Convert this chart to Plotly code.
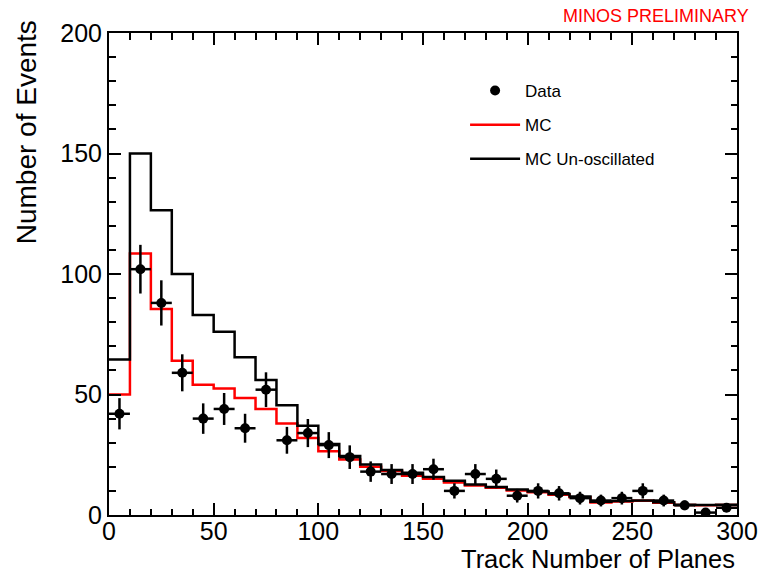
import numpy as np
import plotly.graph_objects as go

# ---- data ----
bin_edges = list(range(0, 301, 10))
bin_centers = [e + 5 for e in bin_edges[:-1]]

data_counts = [42, 102, 88, 59, 40, 44, 36, 52, 31, 34,
               29, 24, 18, 17, 17, 19, 10, 17, 15, 8,
               10, 9, 7, 6, 7, 10, 6, 4, 1, 3]

mc_counts = [50, 108.5, 85.5, 64, 54, 52.5, 48.5, 44, 38, 32,
             26.5, 23, 20, 18.3, 16.3, 15, 13.5, 12.2, 11.3, 10.2,
             9.4, 8.4, 7.4, 5.2, 5.6, 5.9, 5.1, 4.1, 4.0, 4.1]

mc_unosc_counts = [64.5, 150, 126.5, 100, 83, 76, 65.5, 56, 45.5, 37,
                   29.5, 24.5, 21, 18.7, 17.5, 15.8, 14.2, 12.7, 11.6, 10.6,
                   9.7, 8.7, 7.7, 5.5, 5.8, 6.0, 5.3, 4.3, 4.2, 4.3]

x_title = "Track Number of Planes"
y_title = "Number of Events"
label_text = "MINOS PRELIMINARY"

FONT = "Liberation Sans, Arial, Helvetica, sans-serif"

fig = go.Figure()

# MC (red step histogram)
fig.add_trace(go.Scatter(
    x=bin_edges, y=mc_counts + [mc_counts[-1]],
    mode="lines", line=dict(shape="hv", color="#ff0000", width=2.5),
    name="MC", legendgroup="b", legendrank=2,
))

# MC Un-oscillated (black step histogram)
fig.add_trace(go.Scatter(
    x=bin_edges, y=mc_unosc_counts + [mc_unosc_counts[-1]],
    mode="lines", line=dict(shape="hv", color="#000000", width=2.5),
    name="MC Un-oscillated", legendgroup="c", legendrank=3,
))

# Data points with errors
err_y = [float(np.sqrt(v)) for v in data_counts]
err_x = [5] * len(data_counts)
fig.add_trace(go.Scatter(
    x=bin_centers, y=data_counts, mode="markers",
    marker=dict(color="#000000", size=10),
    error_y=dict(type="data", array=err_y, color="#000000", thickness=2.5, width=0),
    error_x=dict(type="data", array=err_x, color="#000000", thickness=2.5, width=0),
    name="Data", legendgroup="a", legendrank=1,
))

axis_common = dict(
    showline=True, linecolor="#000000", linewidth=2, mirror="allticks",
    ticks="inside", ticklen=12, tickwidth=1.5, tickcolor="#000000",
    showgrid=False, zeroline=False, automargin=False,
    tickfont=dict(family=FONT, size=25, color="#000000"),
)

fig.update_xaxes(range=[0, 300], tick0=0, dtick=50, ticklabelstandoff=-7,
                 minor=dict(ticks="inside", ticklen=6.5, tickwidth=1.5,
                            tickcolor="#000000", dtick=10, showgrid=False),
                 **axis_common)
fig.update_yaxes(range=[0, 200], tick0=0, dtick=50,
                 minor=dict(ticks="inside", ticklen=6.5, tickwidth=1.5,
                            tickcolor="#000000", dtick=10, showgrid=False),
                 **axis_common)

fig.add_annotation(text=x_title, xref="paper", yref="paper",
                   x=1.0, y=-0.091, xanchor="right", yanchor="middle",
                   showarrow=False,
                   font=dict(family=FONT, size=25.5, color="#000000"))
fig.add_annotation(text=y_title, xref="paper", yref="paper",
                   x=-0.131, y=1.03, xanchor="center", yanchor="top",
                   textangle=-90, showarrow=False,
                   font=dict(family=FONT, size=28, color="#000000"))
fig.add_annotation(text=label_text, xref="paper", yref="paper",
                   x=1.022, y=1.035, xanchor="right", yanchor="middle",
                   showarrow=False,
                   font=dict(family=FONT, size=18, color="#ff0000"))

fig.update_layout(
    width=764, height=575,
    margin=dict(l=109, r=27, t=33, b=60, autoexpand=False),
    paper_bgcolor="#ffffff", plot_bgcolor="#ffffff",
    showlegend=True,
    legend=dict(x=0.567, y=0.917, xanchor="left", yanchor="top",
                traceorder="grouped", tracegroupgap=9,
                bgcolor="rgba(0,0,0,0)", itemwidth=50,
                font=dict(family=FONT, size=17, color="#000000")),
)

fig.write_html("out.html")
